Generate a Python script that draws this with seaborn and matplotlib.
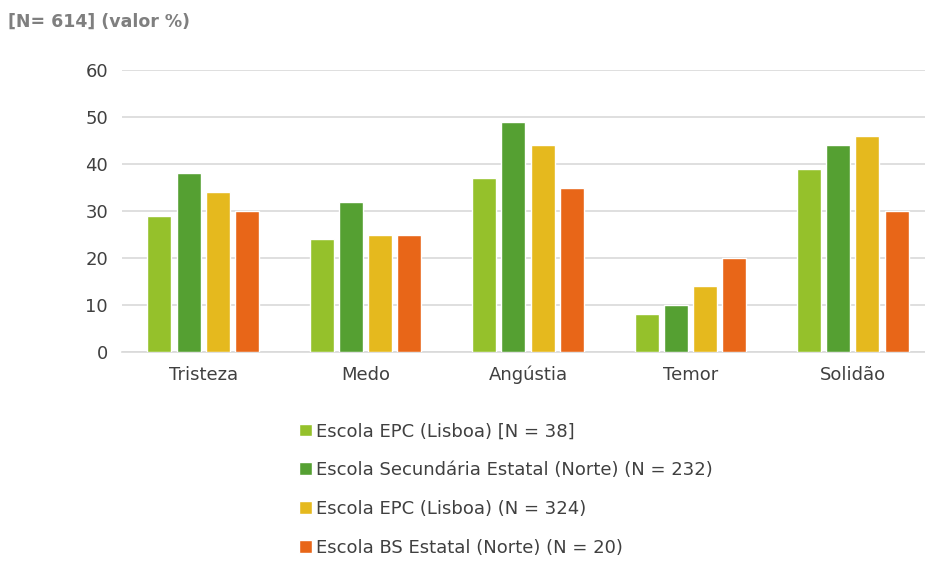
import pandas as pd
import seaborn as sns
import matplotlib.pyplot as plt

# dados
categorias = ['Tristeza', 'Medo', 'Angústia', 'Temor', 'Solidão']
escolas = ['Escola EPC (Lisboa) [N = 38]',
           'Escola Secundária Estatal (Norte) (N = 232)',
           'Escola EPC (Lisboa) (N = 324)',
           'Escola BS Estatal (Norte) (N = 20)']
epc_38 = [29, 24, 37, 8, 39]
sec_232 = [38, 32, 49, 10, 44]
epc_324 = [34, 25, 44, 14, 46]
bs_20 = [30, 25, 35, 20, 30]
cores = ['#95C12B', '#55A032', '#E5B91E', '#E86618']

rows = []
for esc, vals in zip(escolas, [epc_38, sec_232, epc_324, bs_20]):
    for cat, v in zip(categorias, vals):
        rows.append({'cat': cat, 'escola': esc, 'valor': v})
df = pd.DataFrame(rows)

sns.set_style('white')
plt.rcParams['font.family'] = ['DejaVu Sans']

fig = plt.figure(figsize=(9.25, 5.61), dpi=100)
ax = fig.add_axes([122/925, 1-352/561, 812/925, (352-70)/561])

sns.barplot(data=df, x='cat', y='valor', hue='escola', order=categorias,
            hue_order=escolas, palette=cores, width=0.72, gap=0.18,
            saturation=1, ax=ax, zorder=3)

ax.set_ylim(0, 60)
ax.set_xlim(-0.5, 4.5)
ax.set_yticks(range(0, 61, 10))
ax.yaxis.grid(True, color='#d9d9d9', lw=1.2, zorder=0)
ax.set_axisbelow(True)
for s in ['top', 'right', 'left']:
    ax.spines[s].set_visible(False)
ax.spines['bottom'].set_color('#d9d9d9')
ax.spines['bottom'].set_linewidth(1.2)
ax.tick_params(axis='both', length=0, labelsize=13, colors='#404040', pad=10)
ax.set_xlabel('')
ax.set_ylabel('')

ax.get_legend().remove()
handles, labels = ax.get_legend_handles_labels()
fig.legend(handles, labels, loc='upper left', bbox_to_anchor=(283/925, 1-406/561),
           frameon=False, fontsize=13, handlelength=0.7, handleheight=0.7,
           handletextpad=0.2, labelspacing=1.15, labelcolor='#404040')

fig.text(8/925, 1-22/561, '[N= 614] (valor %)', fontsize=12.5, fontweight='bold',
         color='#7f7f7f', va='center', ha='left')

plt.savefig('out.png', dpi=100)
